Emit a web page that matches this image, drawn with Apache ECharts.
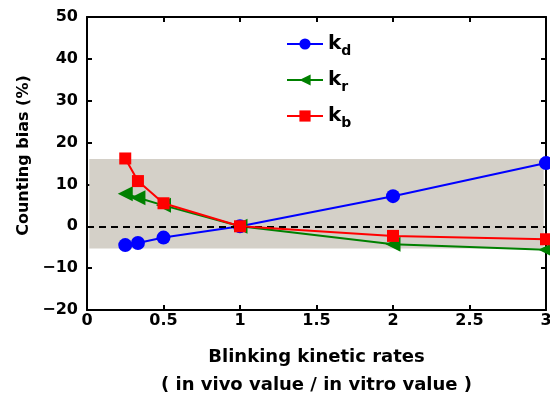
<!DOCTYPE html>
<html>
<head>
<meta charset="utf-8">
<script src="https://cdn.jsdelivr.net/npm/echarts@6/dist/echarts.min.js"></script>
<style>
  html, body { margin: 0; padding: 0; background: #fff; }
  #chart { width: 550px; height: 396px; }
</style>
</head>
<body>
<div id="chart"></div>
<script>
// ================ data =====================
const rates = [0.25, 0.333, 0.5, 1, 2, 3]
const kd = [-4.5, -4.0, -2.7, 0, 7.2, 15.1]
const kr = [7.8, 6.8, 5.0, 0, -4.3, -5.6]
const kb = [16.2, 10.8, 5.5, 0, -2.3, -3.1]
const bandX = [0.015, 2.985]
const bandY = [-5.3, 16.1]
const xTicks = [0, 3, 0.5]   // min, max, step
const yTicks = [-20, 50, 10]

const pairs = (ys) => rates.map((x, i) => [x, ys[i]])
const font = 'DejaVu Sans, sans-serif'
const minus = (v) => String(v).replace('-', '\u2212')

const boxAxis = (pos, t) => ({
  type: 'value', position: pos, min: t[0], max: t[1], interval: t[2],
  axisLine: { show: true, onZero: false, lineStyle: { color: '#000', width: 2 } },
  axisTick: { show: true, inside: true, length: 5, lineStyle: { color: '#000', width: 2 } },
  axisLabel: { show: false },
  splitLine: { show: false }
})

const option = {
  animation: false,
  backgroundColor: '#fff',
  grid: { left: 87, right: 4, top: 17, bottom: 86, outerBoundsMode: 'none', containLabel: false },
  legend: {
    orient: 'vertical',
    left: 281,
    top: 29,
    itemGap: 12,
    itemWidth: 36,
    itemHeight: 14,
    data: ['d', 'r', 'b'],
    formatter: (n) => '{k|k}{s|' + n + '}',
    textStyle: {
      rich: {
        k: { fontFamily: font, fontWeight: 'bold', fontSize: 20, color: '#000' },
        s: { fontFamily: font, fontWeight: 'bold', fontSize: 14, color: '#000', padding: [14, 0, 0, 0] }
      }
    }
  },
  xAxis: [
    {
      type: 'value', min: xTicks[0], max: xTicks[1], interval: xTicks[2],
      name: 'Blinking kinetic rates\n( in vivo value / in vitro value )',
      nameLocation: 'middle', nameGap: 33,
      nameTextStyle: { fontFamily: font, fontWeight: 'bold', fontSize: 18, color: '#000', lineHeight: 28 },
      axisLine: { onZero: false, lineStyle: { color: '#000', width: 2 } },
      axisTick: { inside: true, length: 5, lineStyle: { color: '#000', width: 2 } },
      axisLabel: { margin: 3, fontFamily: font, fontWeight: 'bold', fontSize: 16, color: '#000' },
      splitLine: { show: false }
    },
    boxAxis('top', xTicks)
  ],
  yAxis: [
    {
      type: 'value', min: yTicks[0], max: yTicks[1], interval: yTicks[2],
      name: 'Counting bias (%)',
      nameLocation: 'middle', nameGap: 52,
      nameTextStyle: { fontFamily: font, fontWeight: 'bold', fontSize: 16, color: '#000', padding: [0, 0, 0, 16] },
      axisLine: { show: true, onZero: false, lineStyle: { color: '#000', width: 2 } },
      axisTick: { show: true, inside: true, length: 5, lineStyle: { color: '#000', width: 2 } },
      axisLabel: { margin: 9, fontFamily: font, fontWeight: 'bold', fontSize: 16, color: '#000', formatter: minus },
      splitLine: { show: false }
    },
    boxAxis('right', yTicks)
  ],
  series: [
    {
      name: 'band', type: 'line', data: [], silent: true, z: 1,
      markArea: {
        silent: true,
        itemStyle: { color: '#d4d0c8', opacity: 1 },
        data: [[{ coord: [bandX[0], bandY[0]] }, { coord: [bandX[1], bandY[1]] }]]
      },
      markLine: {
        silent: true, symbol: 'none', label: { show: false },
        lineStyle: { color: '#000', type: [7, 5], width: 2 },
        data: [[{ coord: [xTicks[0], 0] }, { coord: [xTicks[1], 0] }]]
      }
    },
    {
      name: 'd', type: 'line', data: pairs(kd), z: 3,
      symbol: 'circle', symbolSize: 14,
      itemStyle: { color: '#0000ff' }, lineStyle: { color: '#0000ff', width: 2 }
    },
    {
      name: 'r', type: 'line', data: pairs(kr), z: 4,
      symbol: 'triangle', symbolSize: 15, symbolRotate: 90,
      itemStyle: { color: '#008000' }, lineStyle: { color: '#008000', width: 2 }
    },
    {
      name: 'b', type: 'line', data: pairs(kb), z: 5,
      symbol: 'rect', symbolSize: 12,
      itemStyle: { color: '#ff0000' }, lineStyle: { color: '#ff0000', width: 2 }
    }
  ]
}

const myChart = echarts.init(document.getElementById('chart'))
myChart.setOption(option)
</script>
</body>
</html>
